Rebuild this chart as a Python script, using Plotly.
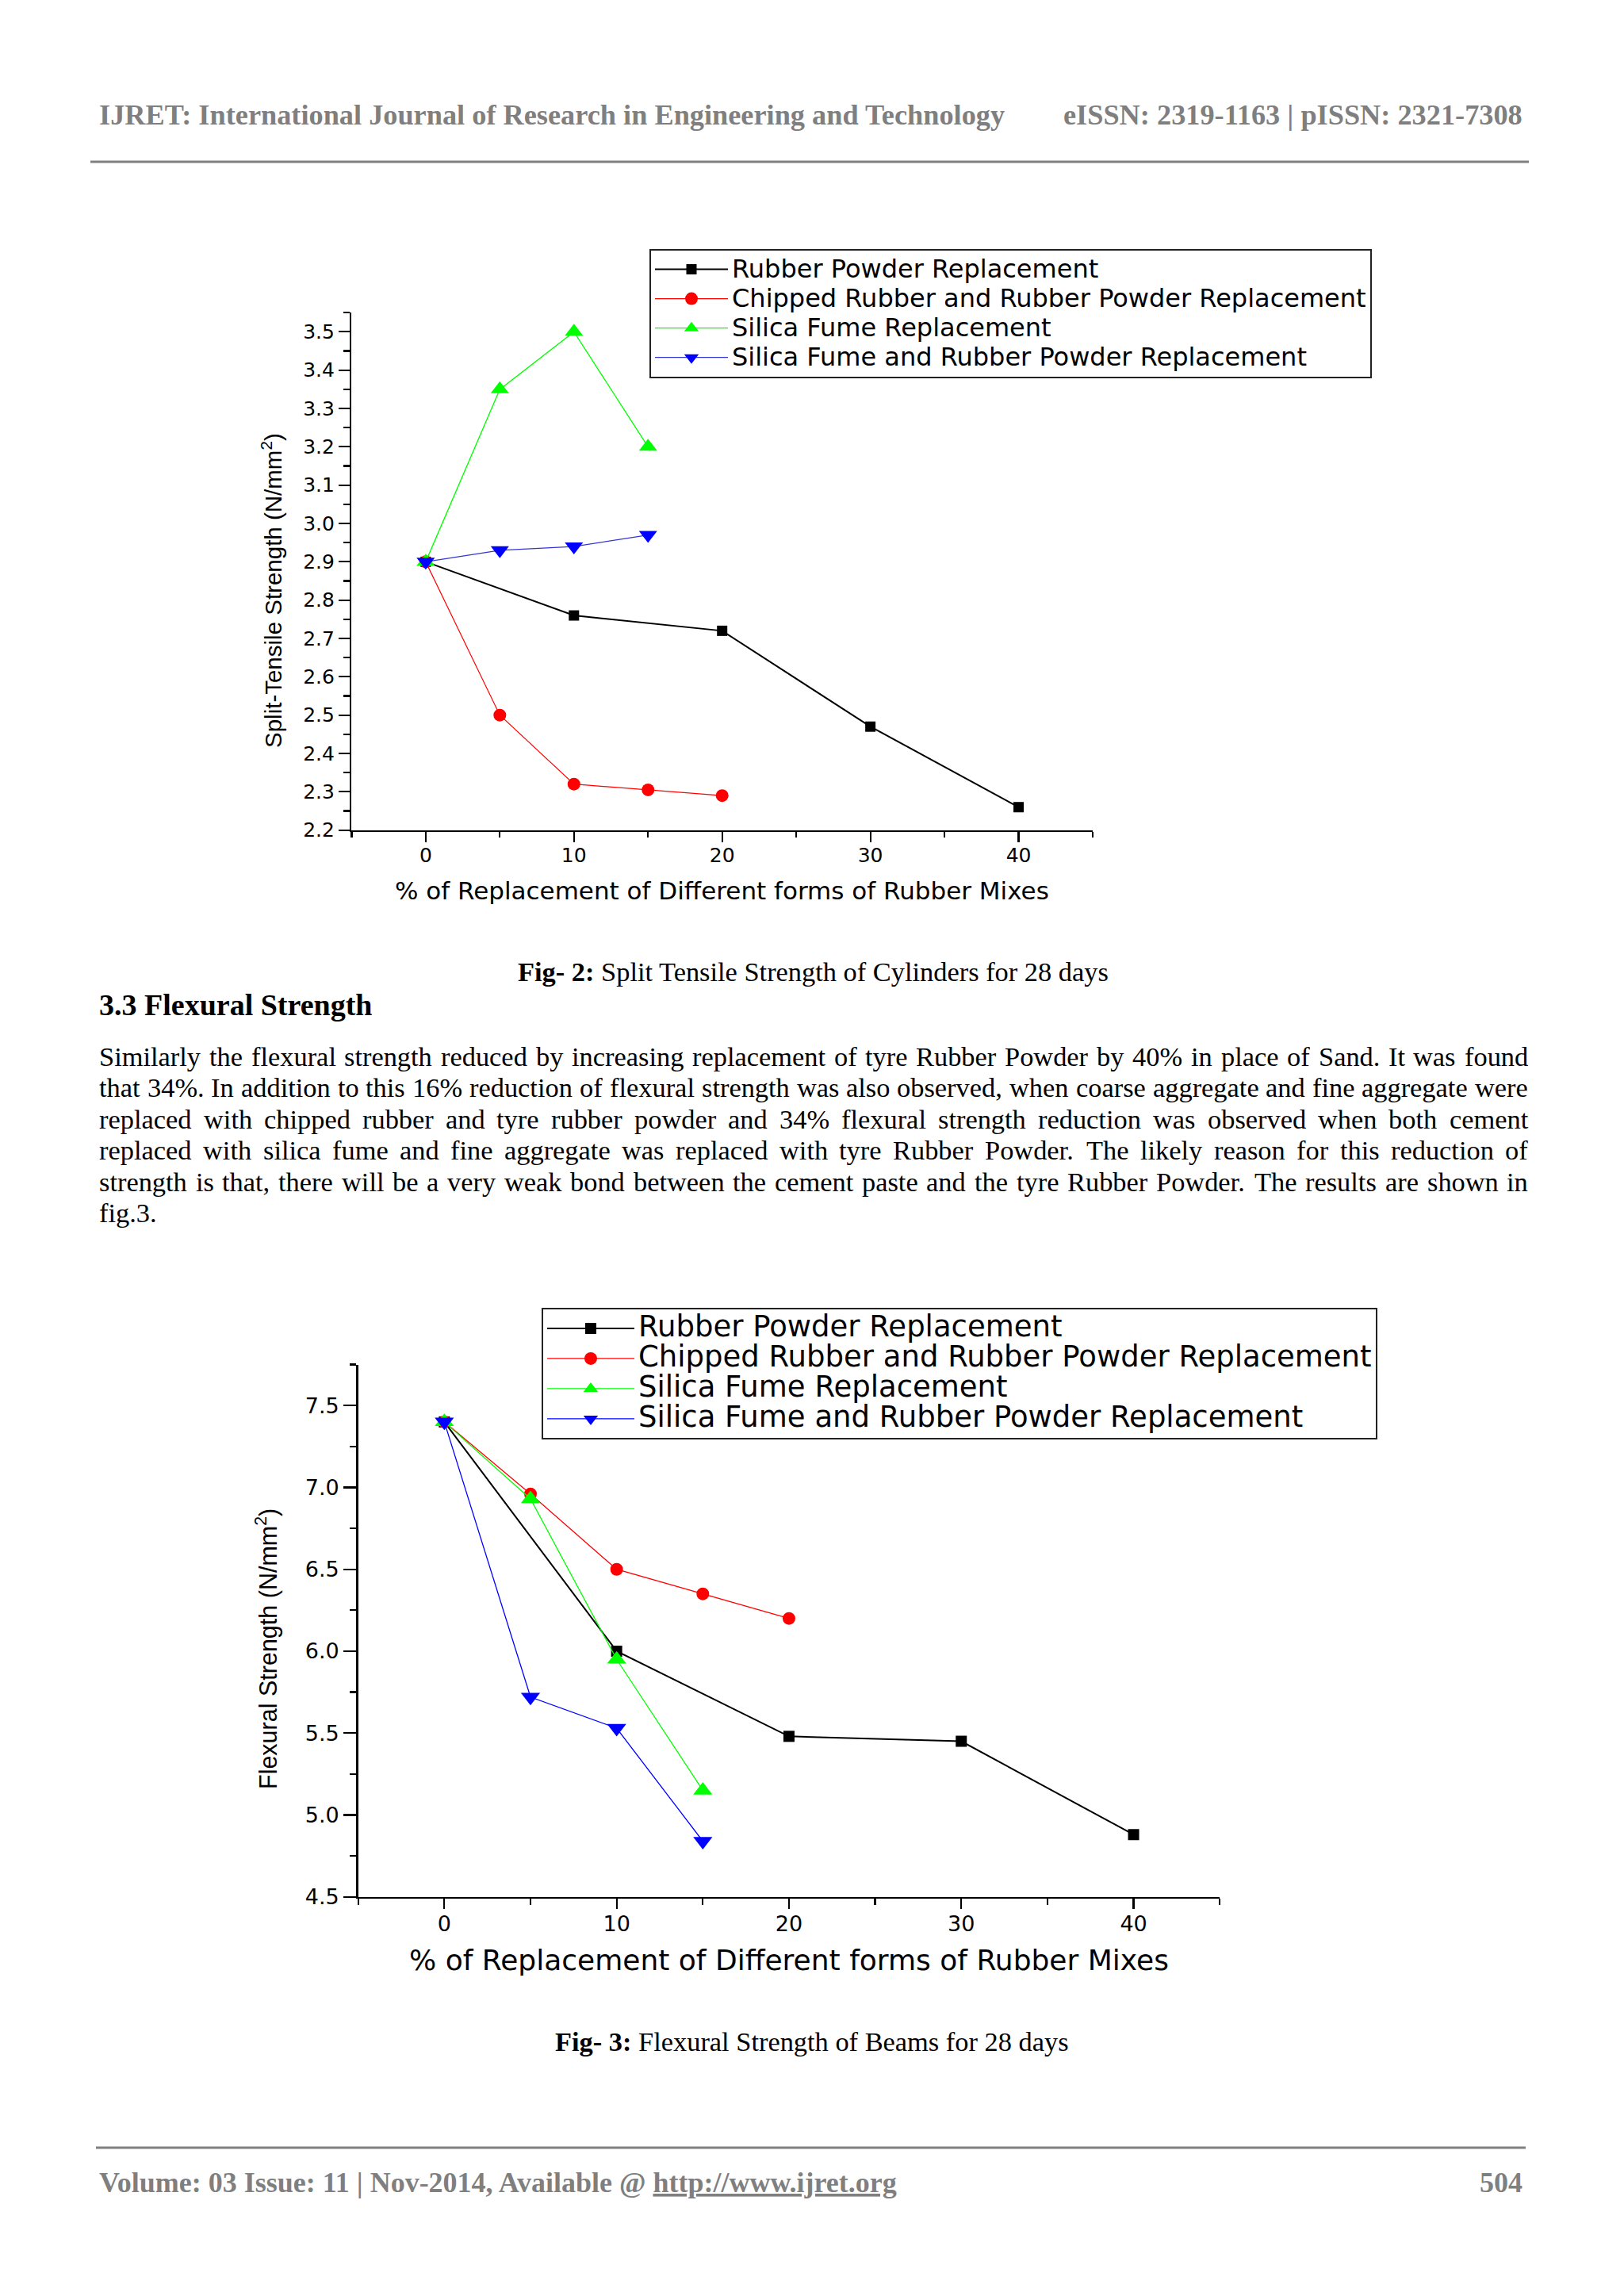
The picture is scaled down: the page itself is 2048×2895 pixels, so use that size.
import plotly.graph_objects as go

# ---------------- data (read from the page) ----------------
series_names = [
    "Rubber Powder Replacement",
    "Chipped Rubber and Rubber Powder Replacement",
    "Silica Fume Replacement",
    "Silica Fume and Rubber Powder Replacement",
]

# % replacement (x) for each series
x_rubber_powder = [0, 10, 20, 30, 40]
x_chipped = [0, 5, 10, 15, 20]
x_silica = [0, 5, 10, 15]
x_silica_rubber = [0, 5, 10, 15]

# Fig-2 split tensile strength (N/mm2)
split_rubber_powder = [2.90, 2.76, 2.72, 2.47, 2.26]
split_chipped = [2.90, 2.50, 2.32, 2.305, 2.29]
split_silica = [2.90, 3.35, 3.50, 3.20]
split_silica_rubber = [2.90, 2.93, 2.94, 2.97]

# Fig-3 flexural strength (N/mm2)
flex_rubber_powder = [7.40, 6.00, 5.48, 5.45, 4.88]
flex_chipped = [7.40, 6.96, 6.50, 6.35, 6.20]
flex_silica = [7.40, 6.93, 5.95, 5.15]
flex_silica_rubber = [7.40, 5.72, 5.53, 4.84]

# tick values / labels
x_tick_vals = [0, 10, 20, 30, 40]
x_tick_text = ["0", "10", "20", "30", "40"]
split_tick_vals = [2.2, 2.3, 2.4, 2.5, 2.6, 2.7, 2.8, 2.9, 3.0, 3.1, 3.2, 3.3, 3.4, 3.5]
split_tick_text = ["2.2", "2.3", "2.4", "2.5", "2.6", "2.7", "2.8", "2.9", "3.0", "3.1", "3.2", "3.3", "3.4", "3.5"]
flex_tick_vals = [4.5, 5.0, 5.5, 6.0, 6.5, 7.0, 7.5]
flex_tick_text = ["4.5", "5.0", "5.5", "6.0", "6.5", "7.0", "7.5"]

# ---------------- page geometry ----------------
W, H = 2048, 2895
H_EFF = 2880  # measured effective vertical scale of the rendered page


def px(x):
    return x / W


def py(y):
    return 1 - y / H_EFF


SANS = "DejaVu Sans"
ARIAL = "Liberation Sans"
SERIF = "Liberation Serif"

fig = go.Figure()

styles1 = [
    dict(color="black", line="black", symbol="square", lw=2.0, ms=13),
    dict(color="red", line="red", symbol="circle", lw=1.2, ms=16),
    dict(color="#00ff00", line="#00ff00", symbol="triangle-up", lw=1.3, ms=20),
    dict(color="#0000ff", line="#3434d0", symbol="triangle-down", lw=1.3, ms=20),
]
styles2 = [
    dict(color="black", line="black", symbol="square", lw=2.0, ms=14),
    dict(color="red", line="red", symbol="circle", lw=1.3, ms=16),
    dict(color="#00ff00", line="#00ff00", symbol="triangle-up", lw=1.3, ms=21),
    dict(color="#0000ff", line="#0000ff", symbol="triangle-down", lw=1.3, ms=21),
]

fig2_series = [
    (x_rubber_powder, split_rubber_powder),
    (x_chipped, split_chipped),
    (x_silica, split_silica),
    (x_silica_rubber, split_silica_rubber),
]
fig3_series = [
    (x_rubber_powder, flex_rubber_powder),
    (x_chipped, flex_chipped),
    (x_silica, flex_silica),
    (x_silica_rubber, flex_silica_rubber),
]

for (xs, ys), name, st in zip(fig2_series, series_names, styles1):
    fig.add_trace(go.Scatter(
        x=xs, y=ys, mode="lines+markers", xaxis="x", yaxis="y", legend="legend",
        name='<span style="font-size:32px">' + name + "</span>",
        line=dict(color=st["line"], width=st["lw"]),
        marker=dict(symbol=st["symbol"], size=st["ms"], color=st["color"], line=dict(width=0)),
    ))

for (xs, ys), name, st in zip(fig3_series, series_names, styles2):
    fig.add_trace(go.Scatter(
        x=xs, y=ys, mode="lines+markers", xaxis="x2", yaxis="y2", legend="legend2",
        name='<span style="font-size:37px">' + name + "</span>",
        line=dict(color=st["line"], width=st["lw"]),
        marker=dict(symbol=st["symbol"], size=st["ms"], color=st["color"], line=dict(width=0)),
    ))


def xaxis_common(domain, tick_size, ticklen_major, ticklen_minor):
    return dict(
        domain=domain, range=[-5, 45], tickmode="array", tickvals=x_tick_vals, ticktext=x_tick_text,
        ticks="outside", ticklen=ticklen_major, tickwidth=2.2, tickcolor="black", ticklabelstandoff=-5,
        minor=dict(ticks="outside", dtick=5, tick0=0, ticklen=ticklen_minor, tickwidth=2.2, tickcolor="black"),
        showline=True, linecolor="black", linewidth=2.5, showgrid=False, zeroline=False,
        tickfont=dict(family=SANS, size=tick_size, color="black"), fixedrange=True,
    )


def yaxis_common(domain, rng, vals, text, minor_dtick, tick_size, ticklen_major, ticklen_minor, anchor):
    return dict(
        domain=domain, range=rng, tickmode="array", tickvals=vals, ticktext=text,
        ticks="outside", ticklen=ticklen_major, tickwidth=2.2, tickcolor="black",
        minor=dict(ticks="outside", dtick=minor_dtick, tick0=rng[0], ticklen=ticklen_minor, tickwidth=2.2, tickcolor="black"),
        showline=True, linecolor="black", linewidth=2.5, showgrid=False, zeroline=False,
        tickfont=dict(family=SANS, size=tick_size, color="black"), anchor=anchor, fixedrange=True,
    )


# chart 1 plot area (pixels): x 443.4..1378, y 394.2..1046.7
# chart 2 plot area (pixels): x 451.7..1538.2, y 1720.6..2391.7
xa1 = xaxis_common([px(443.4), px(1378)], 25, 13, 7)
xa1["anchor"] = "y"
ya1 = yaxis_common([py(1046.7), py(394.2)], [2.2, 3.55], split_tick_vals, split_tick_text, 0.05, 25, 14, 8, "x")
xa2 = xaxis_common([px(451.7), px(1538.2)], 27, 13, 8)
xa2["anchor"] = "y2"
ya2 = yaxis_common([py(2391.7), py(1720.6)], [4.5, 7.75], flex_tick_vals, flex_tick_text, 0.25, 27, 16, 8, "x2")


def ann(text, x, y, size, family, color="black", xanchor="center", yanchor="middle", angle=0, weight="normal"):
    return dict(text=text, x=px(x), y=py(y), xref="paper", yref="paper", xanchor=xanchor,
                yanchor=yanchor, showarrow=False, textangle=angle, borderpad=0,
                font=dict(family=family, size=size, color=color, weight=weight))


annotations = []
GRAY = "#7f7f7f"
# header / footer
annotations.append(ann("IJRET: International Journal of Research in Engineering and Technology",
                       124, 145, 36.3, SERIF, GRAY, xanchor="left", weight="bold"))
annotations.append(ann("eISSN: 2319-1163 | pISSN: 2321-7308", 1921, 145, 36.3, SERIF, GRAY,
                       xanchor="right", weight="bold"))
annotations.append(ann("Volume: 03 Issue: 11 | Nov-2014, Available @ <u>http://www.ijret.org</u>",
                       124, 2752, 36, SERIF, GRAY, xanchor="left", weight="bold"))
annotations.append(ann("504", 1921, 2752, 36, SERIF, GRAY, xanchor="right", weight="bold"))

# axis titles
annotations.append(ann("% of Replacement of Different forms of Rubber Mixes", 910, 1123, 31, SANS))
annotations.append(ann("Split-Tensile Strength (N/mm<sup>2</sup>)", 342, 745, 29.5, ARIAL, angle=-90))
annotations.append(ann("% of Replacement of Different forms of Rubber Mixes", 995, 2471, 36, SANS))
annotations.append(ann("Flexural Strength (N/mm<sup>2</sup>)", 336, 2079, 30.5, ARIAL, angle=-90))

# captions and heading
annotations.append(ann("<b>Fig- 2:</b> Split Tensile Strength of Cylinders for 28 days", 1025, 1225, 34.4, SERIF))
annotations.append(ann("3.3 Flexural Strength", 124, 1267, 38, SERIF, xanchor="left", weight="bold"))
annotations.append(ann("<b>Fig- 3:</b> Flexural Strength of Beams for 28 days", 1024, 2574, 34.4, SERIF))

# body paragraph, justified word by word using Times metrics
TIMES = {" ": 250, "%": 833, ",": 250, "-": 333, ".": 250, "0": 500, "1": 500, "2": 500, "3": 500,
         "4": 500, "5": 500, "6": 500, "7": 500, "8": 500, "9": 500, "I": 333, "P": 556, "R": 667,
         "S": 556, "T": 611, "a": 444, "b": 500, "c": 444, "d": 500, "e": 444, "f": 333, "g": 500,
         "h": 500, "i": 278, "j": 278, "k": 500, "l": 278, "m": 778, "n": 500, "o": 500, "p": 500,
         "q": 500, "r": 333, "s": 389, "t": 278, "u": 500, "v": 500, "w": 722, "x": 500, "y": 500, "z": 444}

body_lines = [
    "Similarly the flexural strength reduced by increasing replacement of tyre Rubber Powder by 40% in place of Sand. It was found",
    "that 34%. In addition to this 16% reduction of flexural strength was also observed, when coarse aggregate and fine aggregate were",
    "replaced with chipped rubber and tyre rubber powder and 34% flexural strength reduction was observed when both  cement",
    "replaced with silica fume and fine aggregate was replaced with tyre Rubber Powder. The likely reason for this reduction of",
    "strength is that, there will be a very weak bond between the cement paste and the tyre Rubber Powder. The results are shown in",
    "fig.3.",
]
body_centers = [1331.5, 1371, 1410.5, 1450, 1489.5, 1529]
BODY_SIZE = 34.4
LEFT, RIGHT = 124, 1926


def word_width(w):
    return sum(TIMES.get(c, 500) for c in w) * BODY_SIZE / 1000.0


for i, (line, yc) in enumerate(zip(body_lines, body_centers)):
    words = line.split()
    widths = [word_width(w) for w in words]
    if i == len(body_lines) - 1 or len(words) == 1:
        gap = TIMES[" "] * BODY_SIZE / 1000.0
    else:
        gap = (RIGHT - LEFT - sum(widths)) / (len(words) - 1)
    xpos = LEFT
    for w, wd in zip(words, widths):
        annotations.append(ann(w, xpos, yc, BODY_SIZE, SERIF, xanchor="left"))
        xpos += wd + gap

shapes = [
    dict(type="line", xref="paper", yref="paper", x0=px(114), x1=px(1928), y0=py(204), y1=py(204),
         line=dict(color="#808080", width=3)),
    dict(type="line", xref="paper", yref="paper", x0=px(121), x1=px(1924), y0=py(2708), y1=py(2708),
         line=dict(color="#808080", width=3)),
]

fig.update_layout(
    width=W, height=H, autosize=False, margin=dict(l=0, r=0, t=0, b=0, pad=0),
    paper_bgcolor="white", plot_bgcolor="white", showlegend=True,
    xaxis=xa1, yaxis=ya1, xaxis2=xa2, yaxis2=ya2,
    legend=dict(x=px(819), y=py(314), xanchor="left", yanchor="top", bgcolor="white",
                bordercolor="#222222", borderwidth=2, itemwidth=92, tracegroupgap=0,
                font=dict(family=SANS, size=26.2, color="black")),
    legend2=dict(x=px(683), y=py(1649), xanchor="left", yanchor="top", bgcolor="white",
                 bordercolor="#222222", borderwidth=2, itemwidth=110, tracegroupgap=0,
                 font=dict(family=SANS, size=26.9, color="black")),
    annotations=annotations, shapes=shapes, hovermode=False,
)

fig.write_html(
    "out.html",
    config={"displayModeBar": False, "responsive": False, "staticPlot": True},
    post_script="document.body.style.margin='0px';document.documentElement.style.overflow='hidden';document.body.style.overflow='hidden';",
)
